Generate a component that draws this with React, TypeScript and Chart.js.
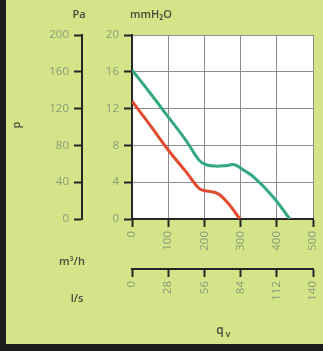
import React, { useEffect, useRef } from "react";
import { Chart, registerables } from "chart.js";

Chart.register(...registerables);

// Curve data: flow (m³/h) vs pressure (mmH2O)
const redFlow = [0, 50, 100, 150, 190, 215, 240, 268, 298];
const redPressure = [12.8, 10.2, 7.5, 5.1, 3.2, 3.0, 2.7, 1.6, 0];
const greenFlow = [0, 50, 100, 150, 185, 205, 230, 260, 283, 305, 335, 390, 436];
const greenPressure = [16.2, 13.7, 11.1, 8.5, 6.4, 5.9, 5.75, 5.8, 5.9, 5.4, 4.6, 2.4, 0];

// Tick labels
const mmTicks = [0, 4, 8, 12, 16, 20];
const paTicks = [0, 40, 80, 120, 160, 200];
const m3hTicks = [0, 100, 200, 300, 400, 500];
const lsTicks = [0, 28, 56, 84, 112, 140];

const BG = "#d4e489";
const LABEL = "#8e9a78";
const TEXT_DARK = "#464b3c";
const AXIS = "#262626";
const GRID = "#8c8c8c";
const FONT = "'Open Sans', 'DejaVu Sans', sans-serif";

const fixedTicks = (values: number[]) => (scale: any) => {
  scale.ticks = values.map((v) => ({ value: v }));
};

const fitBox = (w: number | null, h: number | null) => (s: any) => {
  if (w !== null) s.width = w;
  if (h !== null) s.height = h;
  s.paddingLeft = 0;
  s.paddingRight = 0;
  s.paddingTop = 0;
  s.paddingBottom = 0;
};

export default function App() {
  const ref = useRef<HTMLCanvasElement>(null);

  useEffect(() => {
    if (!ref.current) return;

    const decor = {
      id: "decor",
      beforeDraw(chart: any) {
        const { ctx, width, height, chartArea: a } = chart;
        ctx.save();
        ctx.fillStyle = BG;
        ctx.fillRect(0, 0, width, height);
        ctx.fillStyle = "#1d1d1b";
        ctx.fillRect(0, 0, 6, height);
        ctx.fillRect(0, height - 7, width, 7);
        ctx.fillStyle = "#ffffff";
        ctx.fillRect(a.left, a.top, a.right - a.left, a.bottom - a.top);
        ctx.restore();
      },
      afterDraw(chart: any) {
        const { ctx } = chart;
        ctx.save();
        ctx.fillStyle = TEXT_DARK;
        ctx.textBaseline = "middle";
        ctx.font = `600 11px ${FONT}`;
        ctx.textAlign = "center";
        ctx.fillText("Pa", 79, 15);
        ctx.textAlign = "left";
        ctx.fillText("mmH₂O", 130, 15);
        ctx.textAlign = "center";
        ctx.fillText("m³/h", 72, 262);
        ctx.fillText("l/s", 77, 299);
        ctx.font = `600 12px ${FONT}`;
        ctx.fillText("q", 220, 331);
        ctx.font = `600 9px ${FONT}`;
        ctx.fillText("v", 228, 334);
        ctx.font = `600 11px ${FONT}`;
        ctx.translate(17, 125);
        ctx.rotate(-Math.PI / 2);
        ctx.fillText("p", 0, 0);
        ctx.restore();
      },
    };

    const tickFont = { family: FONT, size: 11.5 };

    const chart = new Chart(ref.current, {
      type: "line",
      data: {
        datasets: [
          {
            data: redFlow.map((x, i) => ({ x, y: redPressure[i] })),
            borderColor: "#e24a2e",
            borderWidth: 3,
            pointRadius: 0,
            tension: 0.4,
            cubicInterpolationMode: "monotone",
            xAxisID: "x",
            yAxisID: "y",
          },
          {
            data: greenFlow.map((x, i) => ({ x, y: greenPressure[i] })),
            borderColor: "#34a97c",
            borderWidth: 3,
            pointRadius: 0,
            tension: 0.4,
            xAxisID: "x",
            yAxisID: "y",
          },
        ],
      },
      options: {
        animation: false,
        responsive: false,
        layout: { padding: { left: 30, top: 35, right: 10, bottom: 42 } },
        plugins: { legend: { display: false }, tooltip: { enabled: false } },
        scales: {
          y: {
            type: "linear",
            position: "left",
            weight: 0,
            min: 0,
            max: 20,
            afterBuildTicks: fixedTicks(mmTicks),
            afterFit: fitBox(50, null),
            grid: { color: GRID, lineWidth: 1, tickColor: AXIS, tickWidth: 2, tickLength: 8 },
            border: { color: AXIS, width: 2 },
            ticks: { color: LABEL, font: tickFont, padding: 5 },
          },
          yPa: {
            type: "linear",
            position: "left",
            weight: 1,
            min: 0,
            max: 200,
            afterBuildTicks: fixedTicks(paTicks),
            afterFit: fitBox(52, null),
            grid: { drawOnChartArea: false, tickColor: AXIS, tickWidth: 2, tickLength: 8 },
            border: { color: AXIS, width: 2 },
            ticks: { color: LABEL, font: tickFont, padding: 5 },
          },
          x: {
            type: "linear",
            position: "bottom",
            weight: 0,
            min: 0,
            max: 500,
            afterBuildTicks: fixedTicks(m3hTicks),
            afterFit: fitBox(null, 50),
            grid: { color: GRID, lineWidth: 1, tickColor: AXIS, tickWidth: 2, tickLength: 8 },
            border: { color: AXIS, width: 2 },
            ticks: { color: LABEL, font: tickFont, padding: 4, minRotation: 90, maxRotation: 90 },
          },
          x2: {
            type: "linear",
            position: "bottom",
            weight: 1,
            min: 0,
            max: 140,
            afterBuildTicks: fixedTicks(lsTicks),
            afterFit: fitBox(null, 40),
            grid: { drawOnChartArea: false, tickColor: AXIS, tickWidth: 2, tickLength: 8 },
            border: { color: AXIS, width: 2 },
            ticks: { color: LABEL, font: tickFont, padding: 4, minRotation: 90, maxRotation: 90 },
          },
        },
      },
      plugins: [decor],
    } as any);

    return () => chart.destroy();
  }, []);

  return (
    <div style={{ position: "fixed", left: 0, top: 0, width: 323, height: 351 }}>
      <canvas ref={ref} width={323} height={351} style={{ width: 323, height: 351, display: "block" }} />
    </div>
  );
}
